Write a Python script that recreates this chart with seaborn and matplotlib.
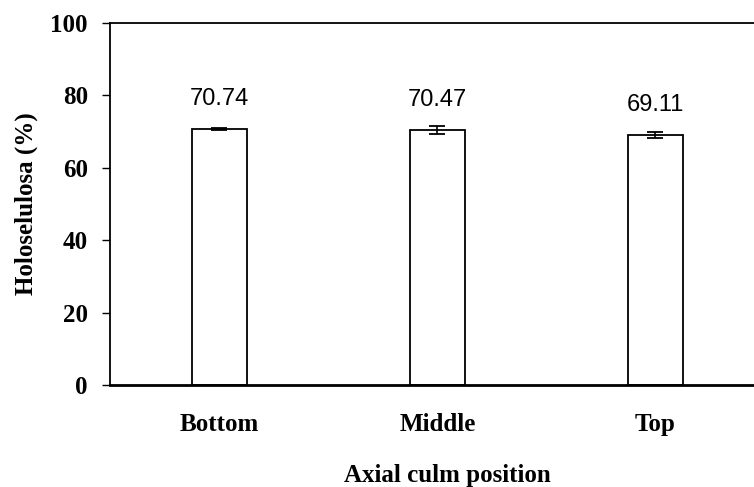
import pandas as pd
import seaborn as sns
import matplotlib.pyplot as plt

positions = ['Bottom', 'Middle', 'Top']
holocellulose = [70.74, 70.47, 69.11]
std_dev = [0.2, 1.0, 0.9]
y_ticks = [0, 20, 40, 60, 80, 100]

df = pd.DataFrame({'position': positions, 'value': holocellulose})

sns.set_style('ticks')
plt.rcParams['font.family'] = ['Liberation Serif', 'DejaVu Serif']
plt.rcParams['text.color'] = 'black'
plt.rcParams['xtick.color'] = 'black'
plt.rcParams['ytick.color'] = 'black'
plt.rcParams['axes.labelcolor'] = 'black'

fig = plt.figure(figsize=(7.54, 4.87), dpi=100)
ax = fig.add_axes([0.1459, 0.2094, 0.868, 0.7434])

sns.barplot(data=df, x='position', y='value', color='white', edgecolor='black',
            linewidth=1.3, width=0.25, errorbar=None, ax=ax)
ax.errorbar(range(len(positions)), holocellulose, yerr=std_dev, fmt='none',
            ecolor='black', elinewidth=1.2, capsize=6, capthick=1.3)

for i, v in enumerate(holocellulose):
    ax.text(i, v + 8.3, f'{v:.2f}', ha='center', va='center', fontsize=17,
            family='Liberation Sans', color='black')

ax.set_ylim(0, 100)
ax.set_xlim(-0.502, 2.5)
ax.set_yticks(y_ticks)
ax.tick_params(axis='y', direction='out', length=6, width=1, pad=10, labelsize=18)
ax.tick_params(axis='x', length=0, pad=20, labelsize=18)
for lab in ax.get_xticklabels() + ax.get_yticklabels():
    lab.set_fontweight('bold')

for side in ['top', 'left', 'right']:
    ax.spines[side].set_linewidth(1.3)
    ax.spines[side].set_color('black')
ax.spines['bottom'].set_linewidth(2)
ax.spines['bottom'].set_color('black')

ax.set_xlabel('Axial culm position', fontsize=18, fontweight='bold')
ax.set_ylabel('Holoselulosa (%)', fontsize=18, fontweight='bold')
ax.xaxis.set_label_coords(0.516, -0.218)
ax.yaxis.set_label_coords(-0.11, 0.5)

plt.savefig('out.png', dpi=100)
